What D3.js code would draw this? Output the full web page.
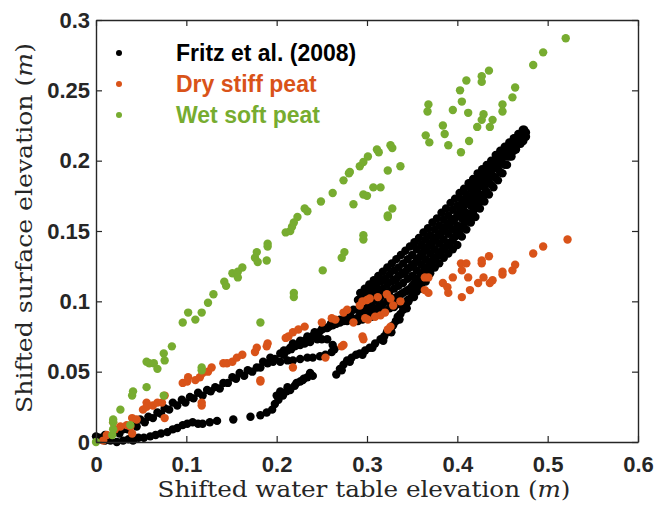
<!DOCTYPE html>
<html>
<head>
<meta charset="utf-8">
<script src="https://cdn.jsdelivr.net/npm/d3@7"></script>
<style>
  body { margin: 0; background: #fff; }
</style>
</head>
<body>
<svg id="chart"></svg>
<script>
// ---- data (x = water table, y = surface, both in m) ----

var xTicks = [0, 0.1, 0.2, 0.3, 0.4, 0.5, 0.6];
var yTicks = [0, 0.05, 0.1, 0.15, 0.2, 0.25, 0.3];

var seriesNames = ["Fritz et al. (2008)", "Dry stiff peat", "Wet soft peat"];
var seriesColors = ["#000000", "#D95319", "#77AC30"];

// Fritz et al. (2008) - lower curve leaving the origin
var fritzLower = [[0.004,0.003],[0.010,0.001],[0.016,0.001],[0.023,0.000],[0.030,0.001],[0.036,0.002],[0.041,0.001],
  [0.047,0.003],[0.053,0.003],[0.060,0.004],[0.066,0.005],[0.072,0.006],[0.079,0.007],[0.085,0.009],[0.090,0.010],
  [0.096,0.012],[0.101,0.013],[0.107,0.014],[0.113,0.013],[0.118,0.013],[0.126,0.014],[0.134,0.015],[0.152,0.016],
  [0.171,0.018],[0.182,0.019],[0.189,0.021],[0.195,0.023],[0.198,0.027],[0.200,0.033],[0.202,0.030],[0.204,0.036],
  [0.207,0.033],[0.211,0.036],[0.212,0.039],[0.215,0.037],[0.220,0.040],[0.222,0.042],[0.226,0.043],[0.229,0.044],
  [0.230,0.045],[0.234,0.046],[0.237,0.049],[0.240,0.047]];

// Fritz - upper curve leaving the origin (two rows of points)
var fritzUpperA = [[0.000,0.004],[0.010,0.005],[0.021,0.007],[0.030,0.009],[0.040,0.012],[0.049,0.016],[0.058,0.018],
  [0.068,0.021],[0.076,0.024],[0.085,0.028],[0.095,0.030],[0.104,0.032],[0.113,0.035],[0.123,0.037],[0.132,0.039],
  [0.141,0.042],[0.151,0.046],[0.159,0.049],[0.168,0.051],[0.178,0.053],[0.185,0.057],[0.193,0.060],[0.204,0.063],
  [0.212,0.065],[0.218,0.070],[0.226,0.072],[0.234,0.075],[0.242,0.078],[0.251,0.081],[0.260,0.084],[0.270,0.087],
  [0.278,0.091],[0.285,0.094]];
var fritzUpperB = [[0.006,0.002],[0.015,0.004],[0.026,0.006],[0.035,0.009],[0.045,0.011],[0.054,0.014],[0.063,0.017],
  [0.072,0.020],[0.081,0.023],[0.090,0.026],[0.099,0.028],[0.108,0.031],[0.118,0.033],[0.127,0.036],[0.137,0.038],
  [0.146,0.042],[0.155,0.045],[0.164,0.047],[0.173,0.050],[0.182,0.053],[0.190,0.056],[0.198,0.059],[0.208,0.062],
  [0.216,0.066],[0.223,0.069],[0.231,0.072],[0.239,0.075],[0.247,0.078],[0.256,0.081],[0.265,0.084],[0.274,0.087],
  [0.282,0.089]];

// Fritz - small loop under the upper curve
var fritzLoop = [[0.196,0.057],[0.204,0.057],[0.212,0.058],[0.218,0.058],[0.226,0.059],[0.234,0.060],[0.240,0.060],
  [0.248,0.061],[0.254,0.062],[0.261,0.064],[0.264,0.066],[0.262,0.069],[0.256,0.073],[0.250,0.073],[0.245,0.073],
  [0.237,0.071],[0.231,0.070],[0.226,0.069],[0.220,0.068],[0.215,0.067],[0.208,0.065]];

// Fritz - flatter middle branch
var fritzMiddle = [[0.250,0.080],[0.254,0.081],[0.258,0.082],[0.262,0.083],[0.266,0.084],[0.270,0.085],[0.274,0.086],
  [0.278,0.086],[0.282,0.087],[0.285,0.087],[0.289,0.088]];

// Fritz - right lower branch joining the band
var fritzRight = [[0.266,0.048],[0.270,0.052],[0.274,0.055],[0.278,0.058],[0.283,0.060],[0.288,0.062],[0.292,0.063],
  [0.298,0.065],[0.303,0.067],[0.309,0.070],[0.315,0.073],[0.319,0.075],[0.322,0.078],[0.326,0.080],[0.329,0.083],
  [0.332,0.086],[0.334,0.089],[0.337,0.091],[0.340,0.094],[0.343,0.097],[0.346,0.100],[0.349,0.103],[0.351,0.106],
  [0.354,0.108],[0.357,0.110],[0.360,0.113],[0.362,0.115],[0.366,0.118],[0.370,0.122],
  [0.272,0.051],[0.281,0.057],[0.295,0.062],[0.306,0.067],[0.318,0.072],[0.327,0.078],[0.336,0.087],[0.344,0.095],
  [0.352,0.103],[0.359,0.109],[0.365,0.114]];

// Fritz - dense band up to the top end (rows read across the band)
var bandXa = [0.290,0.295,0.300,0.305,0.310,0.315,0.320,0.325,0.330,0.335,0.340,0.345,0.350,0.355,0.360,0.365,0.370,
  0.375,0.380,0.385,0.390,0.395,0.400,0.405,0.410,0.415,0.420,0.425,0.430,0.435,0.440,0.445,0.450,0.455,0.460,0.465,0.470];
var bandA0 = [0.086,0.087,0.088,0.089,0.091,0.092,0.093,0.095,0.096,0.098,0.099,0.101,0.103,0.107,0.112,0.116,0.120,
  0.124,0.127,0.131,0.134,0.137,0.140,0.146,0.151,0.156,0.160,0.166,0.171,0.176,0.181,0.186,0.191,0.197,0.203,0.208,0.212];
var bandA1 = [0.094,0.095,0.097,0.099,0.101,0.103,0.105,0.107,0.109,0.111,0.113,0.116,0.118,0.122,0.126,0.130,0.134,
  0.137,0.141,0.144,0.148,0.151,0.154,0.159,0.163,0.168,0.172,0.176,0.181,0.185,0.189,0.194,0.198,0.203,0.207,0.212,0.216];
var bandA2 = [0.101,0.103,0.106,0.108,0.111,0.114,0.116,0.119,0.122,0.124,0.127,0.130,0.133,0.137,0.140,0.144,0.147,
  0.151,0.154,0.158,0.161,0.165,0.168,0.172,0.176,0.180,0.183,0.187,0.191,0.194,0.198,0.201,0.205,0.208,0.212,0.216,0.219];
var bandXb = [0.2925,0.2975,0.3025,0.3075,0.3125,0.3175,0.3225,0.3275,0.3325,0.3375,0.3425,0.3475,0.3525,0.3575,0.3625,
  0.3675,0.3725,0.3775,0.3825,0.3875,0.3925,0.3975,0.4025,0.4075,0.4125,0.4175,0.4225,0.4275,0.4325,0.4375,0.4425,
  0.4475,0.4525,0.4575,0.4625,0.4675,0.4725];
var bandB0 = [0.091,0.092,0.093,0.095,0.096,0.098,0.100,0.102,0.103,0.105,0.107,0.109,0.113,0.117,0.121,0.125,0.129,
  0.132,0.136,0.139,0.142,0.146,0.150,0.155,0.159,0.164,0.168,0.173,0.178,0.183,0.188,0.192,0.197,0.203,0.207,0.212,0.216];
var bandB1 = [0.098,0.100,0.102,0.105,0.107,0.109,0.112,0.114,0.116,0.119,0.121,0.124,0.127,0.131,0.135,0.139,0.142,
  0.146,0.149,0.153,0.156,0.159,0.163,0.168,0.172,0.176,0.180,0.184,0.188,0.192,0.196,0.199,0.203,0.208,0.212,0.216,0.219];
var bandB2 = [0.106,0.109,0.112,0.115,0.118,0.121,0.124,0.127,0.130,0.133,0.136,0.139,0.142,0.145,0.149,0.152,0.156,
  0.159,0.163,0.166,0.170,0.173,0.177,0.180,0.184,0.187,0.191,0.194,0.197,0.200,0.204,0.207,0.210,0.213,0.216,0.219,0.222];
// extra rows where the band is widest
var bandXc = [0.330,0.335,0.340,0.345,0.350,0.355,0.360,0.365,0.370,0.375,0.380,0.385,0.390,0.395,0.400,0.405,0.410,
  0.415,0.420,0.425,0.430];
var bandC0 = [0.102,0.104,0.106,0.108,0.111,0.115,0.119,0.123,0.127,0.130,0.134,0.137,0.141,0.144,0.147,0.152,0.157,
  0.162,0.166,0.171,0.176];
var bandC1 = [0.115,0.118,0.120,0.123,0.126,0.129,0.133,0.137,0.140,0.144,0.147,0.151,0.154,0.158,0.161,0.165,0.170,
  0.174,0.177,0.182,0.186];
var fritzTip = [[0.474,0.222],[0.476,0.220],[0.476,0.217],[0.473,0.214]];

// Dry stiff peat
var dryPeat = [[0.008,0.001],[0.012,0.005],[0.019,0.014],[0.021,0.009],[0.027,0.011],[0.034,0.012],[0.038,0.011],
  [0.040,0.006],[0.040,0.017],[0.045,0.016],[0.052,0.023],[0.056,0.028],[0.056,0.025],[0.063,0.026],[0.068,0.028],
  [0.073,0.028],[0.076,0.033],[0.076,0.017],[0.096,0.042],[0.101,0.043],[0.102,0.046],[0.110,0.044],[0.115,0.046],
  [0.117,0.028],[0.117,0.026],[0.118,0.049],[0.124,0.050],[0.128,0.053],[0.141,0.056],[0.145,0.056],[0.151,0.057],
  [0.156,0.060],[0.162,0.062],[0.176,0.064],[0.178,0.067],[0.182,0.044],[0.182,0.043],[0.189,0.068],[0.190,0.070],
  [0.210,0.074],[0.213,0.075],[0.218,0.078],[0.218,0.053],[0.224,0.080],[0.231,0.082],[0.250,0.085],[0.254,0.060],
  [0.261,0.088],[0.265,0.087],[0.272,0.068],[0.274,0.069],[0.274,0.092],[0.278,0.094],[0.285,0.085],[0.292,0.097],
  [0.295,0.100],[0.295,0.075],[0.296,0.073],[0.298,0.088],[0.300,0.101],[0.301,0.087],[0.303,0.102],[0.309,0.089],
  [0.312,0.103],[0.315,0.090],[0.320,0.092],[0.322,0.105],[0.323,0.080],[0.326,0.082],[0.326,0.102],[0.329,0.097],
  [0.337,0.100],[0.364,0.117],[0.368,0.117],[0.364,0.108],[0.368,0.106],[0.384,0.113],[0.389,0.110],[0.390,0.106],
  [0.395,0.117],[0.404,0.127],[0.410,0.127],[0.405,0.122],[0.412,0.117],[0.414,0.108],[0.405,0.103],[0.427,0.129],
  [0.427,0.127],[0.435,0.132],[0.423,0.113],[0.429,0.117],[0.439,0.115],[0.436,0.113],[0.450,0.121],[0.450,0.119],
  [0.461,0.122],[0.464,0.126],[0.484,0.134],[0.495,0.139],[0.522,0.144]];

// Wet soft peat
var wetPeat = [[0.000,0.000],[0.018,0.005],[0.019,0.009],[0.019,0.014],[0.019,0.016],[0.027,0.023],[0.038,0.012],
  [0.040,0.033],[0.041,0.036],[0.056,0.039],[0.056,0.057],[0.059,0.056],[0.064,0.056],[0.068,0.052],[0.075,0.063],
  [0.076,0.058],[0.075,0.033],[0.084,0.068],[0.096,0.085],[0.102,0.092],[0.110,0.087],[0.117,0.092],[0.117,0.053],
  [0.117,0.051],[0.124,0.099],[0.130,0.105],[0.142,0.114],[0.144,0.111],[0.151,0.120],[0.157,0.121],[0.157,0.117],
  [0.162,0.124],[0.176,0.131],[0.178,0.135],[0.179,0.128],[0.182,0.085],[0.189,0.129],[0.190,0.141],[0.190,0.139],
  [0.210,0.149],[0.215,0.150],[0.217,0.153],[0.219,0.156],[0.223,0.160],[0.219,0.106],[0.219,0.103],[0.231,0.166],
  [0.234,0.164],[0.249,0.171],[0.251,0.122],[0.262,0.177],[0.272,0.131],[0.274,0.186],[0.275,0.135],[0.280,0.191],
  [0.281,0.192],[0.285,0.169],[0.292,0.196],[0.296,0.199],[0.296,0.176],[0.296,0.147],[0.296,0.144],[0.300,0.175],
  [0.301,0.203],[0.307,0.181],[0.311,0.208],[0.313,0.206],[0.315,0.181],[0.323,0.193],[0.323,0.161],[0.323,0.160],
  [0.326,0.211],[0.328,0.209],[0.328,0.166],[0.337,0.196],[0.365,0.218],[0.367,0.235],[0.368,0.240],[0.369,0.213],
  [0.384,0.225],[0.386,0.219],[0.390,0.211],[0.395,0.236],[0.403,0.250],[0.404,0.206],[0.405,0.242],[0.410,0.257],
  [0.412,0.234],[0.413,0.214],[0.422,0.224],[0.427,0.260],[0.427,0.256],[0.427,0.229],[0.429,0.233],[0.435,0.264],
  [0.436,0.224],[0.439,0.229],[0.450,0.240],[0.450,0.235],[0.461,0.245],[0.464,0.252],[0.484,0.268],[0.495,0.277],
  [0.520,0.287]];

// ---- assemble the black series ----
var fritz = [].concat(fritzLower, fritzUpperA, fritzUpperB, fritzLoop, fritzMiddle, fritzRight);
bandXa.forEach(function(x, i) {
  fritz.push([x, bandA0[i]], [x, bandA1[i]], [x, bandA2[i]]);
});
bandXb.forEach(function(x, i) {
  fritz.push([x, bandB0[i]], [x, bandB1[i]], [x, bandB2[i]]);
});
bandXc.forEach(function(x, i) {
  fritz.push([x, bandC0[i]], [x, bandC1[i]]);
});
fritz = fritz.concat(fritzTip);

var allSeries = [fritz, dryPeat, wetPeat];

// ---- chart ----
var w = 659, h = 505;
var plotL = 96, plotR = 638, plotT = 20, plotB = 442;
var axisColor = "#262626";

var svg = d3.select("#chart").attr("width", w).attr("height", h);

var x = d3.scaleLinear().domain([0, 0.6]).range([plotL, plotR]);
var y = d3.scaleLinear().domain([0, 0.3]).range([plotB, plotT]);
var fmt = d3.format("~g");

// points: black first, then orange, then green on top
allSeries.forEach(function(data, s) {
  svg.append("g").selectAll("circle")
    .data(data)
    .enter()
    .append("circle")
    .attr("cx", function(d) { return x(d[0]); })
    .attr("cy", function(d) { return y(d[1]); })
    .attr("r", 4.2)
    .attr("fill", seriesColors[s]);
});

// box + inward ticks on all four sides
var gx = svg.append("g").attr("transform", "translate(0," + plotB + ")")
  .call(d3.axisBottom(x).tickValues(xTicks).tickSizeInner(-6).tickSizeOuter(0).tickPadding(14).tickFormat(fmt));
var gy = svg.append("g").attr("transform", "translate(" + plotL + ",0)")
  .call(d3.axisLeft(y).tickValues(yTicks).tickSizeInner(-6).tickSizeOuter(0).tickPadding(6).tickFormat(fmt));
var gt = svg.append("g").attr("transform", "translate(0," + plotT + ")")
  .call(d3.axisTop(x).tickValues(xTicks).tickSizeInner(-6).tickSizeOuter(0).tickFormat(""));
var gr = svg.append("g").attr("transform", "translate(" + plotR + ",0)")
  .call(d3.axisRight(y).tickValues(yTicks).tickSizeInner(-6).tickSizeOuter(0).tickFormat(""));

[gx, gy, gt, gr].forEach(function(g) {
  g.selectAll("path.domain").attr("stroke", axisColor).attr("stroke-width", 1.4);
  g.selectAll(".tick line").attr("stroke", axisColor).attr("stroke-width", 1.2);
  g.selectAll(".tick text")
    .attr("fill", axisColor)
    .style("font-family", "'Liberation Sans', Arial, sans-serif")
    .style("font-weight", "bold")
    .style("font-size", "22px");
});

// axis titles
var xt = svg.append("text")
  .attr("x", (plotL + plotR) / 2 - 3)
  .attr("y", 497)
  .attr("text-anchor", "middle")
  .attr("textLength", 413)
  .attr("lengthAdjust", "spacingAndGlyphs")
  .style("font-family", "'DejaVu Serif', serif")
  .style("font-size", "22px")
  .attr("fill", axisColor);
xt.append("tspan").text("Shifted water table elevation (");
xt.append("tspan").style("font-style", "italic").text("m");
xt.append("tspan").text(")");

var yt = svg.append("text")
  .attr("transform", "translate(32," + ((plotT + plotB) / 2 - 3) + ") rotate(-90)")
  .attr("text-anchor", "middle")
  .attr("textLength", 370)
  .attr("lengthAdjust", "spacingAndGlyphs")
  .style("font-family", "'DejaVu Serif', serif")
  .style("font-size", "22px")
  .attr("fill", axisColor);
yt.append("tspan").text("Shifted surface elevation (");
yt.append("tspan").style("font-style", "italic").text("m");
yt.append("tspan").text(")");

// legend
var legendY = [53, 84, 115];
var legend = svg.append("g");
seriesNames.forEach(function(name, i) {
  legend.append("circle")
    .attr("cx", 119)
    .attr("cy", legendY[i])
    .attr("r", 3)
    .attr("fill", seriesColors[i]);
  legend.append("text")
    .attr("x", 176)
    .attr("y", legendY[i] + 8)
    .style("font-family", "'Liberation Sans', Arial, sans-serif")
    .style("font-weight", "bold")
    .style("font-size", "23px")
    .attr("fill", seriesColors[i])
    .text(name);
});
</script>
</body>
</html>
